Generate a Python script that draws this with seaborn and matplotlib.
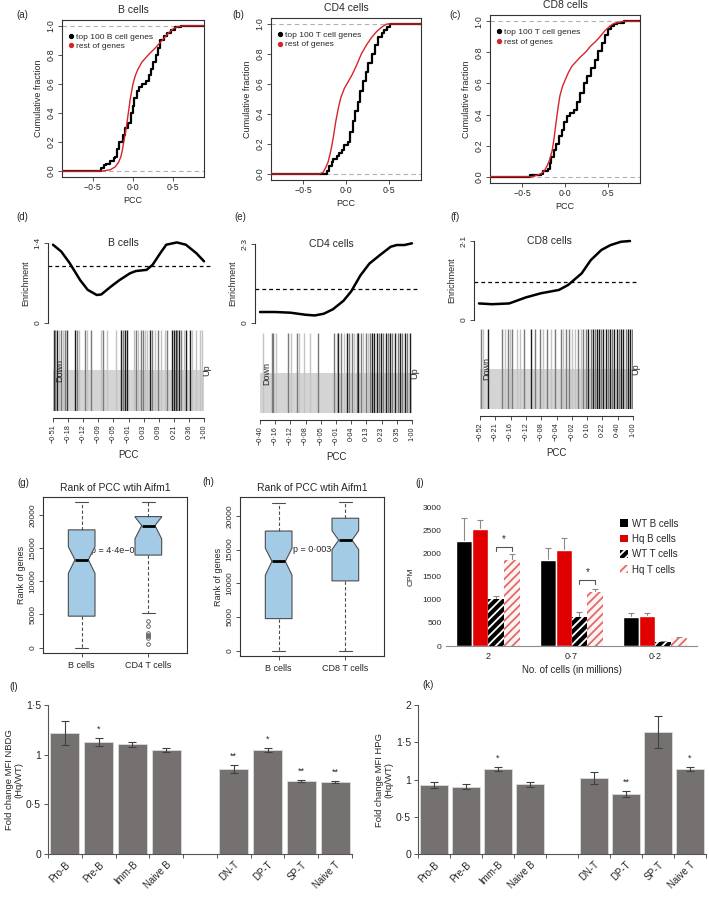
import numpy as np
import pandas as pd
import matplotlib
matplotlib.use("Agg")
import matplotlib.pyplot as plt
import seaborn as sns
from matplotlib.lines import Line2D
from matplotlib.patches import Patch

# ---- (a-c) cumulative fraction curves ----
a_top_pcc = [-0.88, -0.42, -0.40, -0.36, -0.33, -0.28, -0.24, -0.22, -0.20, -0.17, -0.13, -0.095, -0.06,
             -0.025, 0.0, 0.017, 0.05, 0.08, 0.11, 0.16, 0.20, 0.22, 0.25, 0.28, 0.31, 0.34, 0.38, 0.42,
             0.47, 0.52, 0.60, 0.88]
a_top_cum = [0.0, 0.0, 0.02, 0.04, 0.05, 0.07, 0.09, 0.10, 0.15, 0.20, 0.25, 0.30, 0.33, 0.40, 0.45, 0.50,
             0.55, 0.58, 0.60, 0.62, 0.66, 0.70, 0.75, 0.80, 0.85, 0.90, 0.93, 0.95, 0.97, 0.99, 1.0, 1.0]
a_rest_pcc = [-0.88, -0.45, -0.35, -0.28, -0.22, -0.18, -0.15, -0.13, -0.115, -0.083, -0.058, -0.033, 0.0,
              0.03, 0.06, 0.11, 0.19, 0.28, 0.36, 0.44, 0.50, 0.56, 0.63, 0.88]
a_rest_cum = [0.0, 0.0, 0.003, 0.01, 0.03, 0.06, 0.10, 0.15, 0.20, 0.30, 0.40, 0.50, 0.60, 0.66, 0.70, 0.75,
              0.80, 0.85, 0.90, 0.95, 0.98, 0.995, 1.0, 1.0]

b_top_pcc = [-0.88, -0.25, -0.22, -0.20, -0.17, -0.15, -0.11, -0.08, -0.05, -0.02, 0.02, 0.05, 0.08, 0.11,
             0.14, 0.17, 0.20, 0.23, 0.26, 0.30, 0.34, 0.38, 0.42, 0.45, 0.48, 0.52, 0.88]
b_top_cum = [0.0, 0.0, 0.02, 0.05, 0.08, 0.10, 0.12, 0.14, 0.16, 0.19, 0.21, 0.28, 0.35, 0.42, 0.48, 0.55,
             0.62, 0.68, 0.74, 0.80, 0.86, 0.91, 0.94, 0.96, 0.98, 1.0, 1.0]
b_rest_pcc = [-0.88, -0.32, -0.27, -0.24, -0.21, -0.18, -0.15, -0.12, -0.09, -0.06, -0.02, 0.02, 0.07, 0.12,
              0.18, 0.24, 0.30, 0.36, 0.42, 0.48, 0.88]
b_rest_cum = [0.0, 0.0, 0.01, 0.04, 0.08, 0.15, 0.24, 0.35, 0.44, 0.51, 0.57, 0.61, 0.66, 0.72, 0.80, 0.86,
              0.91, 0.95, 0.98, 1.0, 1.0]

c_top_pcc = [-0.88, -0.41, -0.41, -0.30, -0.28, -0.26, -0.20, -0.18, -0.16, -0.13, -0.10, -0.07, -0.04, -0.01,
             0.02, 0.06, 0.10, 0.14, 0.18, 0.22, 0.26, 0.30, 0.35, 0.39, 0.43, 0.47, 0.51, 0.54, 0.57, 0.61,
             0.69, 0.88]
c_top_cum = [0.0, 0.0, 0.01, 0.01, 0.02, 0.04, 0.05, 0.09, 0.13, 0.17, 0.21, 0.26, 0.30, 0.35, 0.39, 0.41,
             0.43, 0.48, 0.54, 0.60, 0.65, 0.70, 0.75, 0.81, 0.86, 0.91, 0.95, 0.97, 0.98, 0.99, 1.0, 1.0]
c_rest_pcc = [-0.88, -0.38, -0.33, -0.28, -0.24, -0.21, -0.18, -0.15, -0.13, -0.10, -0.08, -0.06, -0.03, 0.0,
              0.04, 0.08, 0.13, 0.18, 0.24, 0.30, 0.36, 0.41, 0.47, 0.53, 0.57, 0.61, 0.69, 0.88]
c_rest_cum = [0.0, 0.0, 0.01, 0.02, 0.04, 0.07, 0.11, 0.17, 0.24, 0.37, 0.45, 0.52, 0.58, 0.62, 0.67, 0.71,
              0.74, 0.77, 0.80, 0.84, 0.87, 0.90, 0.94, 0.97, 0.985, 0.99, 1.0, 1.0]

# ---- (d-f) enrichment curves and barcodes (x = rank fraction) ----
d_frac = [0.0, 0.055, 0.11, 0.18, 0.23, 0.29, 0.32, 0.38, 0.44, 0.51, 0.55, 0.62, 0.66, 0.71, 0.75, 0.82,
          0.88, 0.95, 1.0]
d_enrich = [1.37, 1.25, 1.05, 0.75, 0.58, 0.49, 0.50, 0.63, 0.75, 0.87, 0.91, 0.93, 1.02, 1.22, 1.37, 1.41,
            1.37, 1.22, 1.08]
e_frac = [0.0, 0.10, 0.20, 0.30, 0.36, 0.42, 0.48, 0.55, 0.60, 0.66, 0.72, 0.79, 0.86, 0.90, 0.95, 1.0]
e_enrich = [0.32, 0.32, 0.30, 0.24, 0.22, 0.27, 0.40, 0.65, 0.92, 1.38, 1.73, 1.98, 2.22, 2.27, 2.27, 2.32]
f_frac = [0.0, 0.087, 0.20, 0.31, 0.41, 0.53, 0.59, 0.68, 0.74, 0.81, 0.87, 0.94, 1.0]
f_enrich = [0.44, 0.42, 0.44, 0.60, 0.71, 0.80, 0.93, 1.24, 1.59, 1.86, 1.99, 2.08, 2.10]

d_bars = [0.007, 0.015, 0.029, 0.040, 0.051, 0.066, 0.082, 0.095, 0.143, 0.157, 0.170, 0.210, 0.227, 0.249,
          0.320, 0.331, 0.360, 0.419, 0.448, 0.464, 0.479, 0.492, 0.536, 0.552, 0.563, 0.581, 0.596, 0.607,
          0.625, 0.640, 0.656, 0.678, 0.695, 0.717, 0.740, 0.757, 0.788, 0.801, 0.812, 0.823, 0.834, 0.850,
          0.868, 0.883, 0.905, 0.921, 0.949, 0.971, 0.987]
d_weight = [0.9, 0.6, 0.9, 0.35, 0.6, 0.35, 0.6, 0.8, 0.9, 0.6, 0.35, 0.6, 0.35, 0.6, 0.35, 0.6, 0.35, 0.35,
            0.9, 0.6, 0.9, 0.9, 0.35, 0.6, 0.35, 0.6, 0.6, 0.35, 0.35, 0.9, 0.6, 0.35, 0.6, 0.35, 0.35, 0.6,
            0.9, 0.9, 0.9, 0.6, 0.9, 0.6, 0.35, 0.9, 0.9, 0.35, 0.35, 0.35, 0.35]
e_bars = [0.022, 0.077, 0.088, 0.103, 0.186, 0.204, 0.241, 0.257, 0.292, 0.329, 0.384, 0.489, 0.504, 0.515,
          0.533, 0.555, 0.570, 0.586, 0.603, 0.621, 0.636, 0.647, 0.664, 0.680, 0.695, 0.708, 0.724, 0.739,
          0.752, 0.768, 0.783, 0.796, 0.811, 0.827, 0.840, 0.855, 0.871, 0.888, 0.906, 0.921, 0.936, 0.954,
          0.969, 0.987]
e_weight = [0.35, 0.6, 0.6, 0.35, 0.6, 0.35, 0.6, 0.35, 0.35, 0.35, 0.6, 0.6, 0.35, 0.9, 0.6, 0.35, 0.9, 0.6,
            0.6, 0.35, 0.6, 0.9, 0.6, 0.35, 0.6, 0.35, 0.6, 0.9, 0.9, 0.9, 0.6, 0.9, 0.6, 0.9, 0.6, 0.9, 0.6,
            0.9, 0.6, 0.9, 0.6, 0.9, 0.6, 0.9]
f_bars = [0.007, 0.022, 0.050, 0.146, 0.163, 0.181, 0.196, 0.211, 0.240, 0.261, 0.290, 0.333, 0.359, 0.392,
          0.414, 0.436, 0.464, 0.490, 0.529, 0.545, 0.560, 0.582, 0.603, 0.621, 0.643, 0.660, 0.675, 0.691,
          0.708, 0.725, 0.736, 0.752, 0.763, 0.778, 0.791, 0.806, 0.821, 0.834, 0.850, 0.865, 0.878, 0.893,
          0.908, 0.922, 0.937, 0.952, 0.965, 0.980, 0.991]
f_weight = [0.6, 0.35, 0.9, 0.6, 0.35, 0.6, 0.35, 0.6, 0.35, 0.35, 0.6, 0.9, 0.6, 0.6, 0.35, 0.6, 0.35, 0.6,
            0.6, 0.35, 0.6, 0.6, 0.35, 0.35, 0.6, 0.35, 0.6, 0.6, 0.9, 0.6, 0.9, 0.6, 0.9, 0.9, 0.6, 0.9, 0.9,
            0.6, 0.9, 0.6, 0.9, 0.9, 0.6, 0.9, 0.9, 0.6, 0.9, 0.9, 0.6]

d_ticks = ["−0·51", "−0·18", "−0·12", "−0·09", "−0·05", "−0·01", "0·03", "0·09", "0·21", "0·36", "1·00"]
e_ticks = ["−0·40", "−0·16", "−0·12", "−0·08", "−0·05", "−0·01", "0·04", "0·13", "0·23", "0·35", "1·00"]
f_ticks = ["−0·52", "−0·21", "−0·16", "−0·12", "−0·08", "−0·04", "−0·02", "0·10", "0·22", "0·40", "1·00"]

# ---- (g, h) rank boxplots: whislo, q1, notch lo, median, notch hi, q3, whishi ----
box_labels_g = ["B cells", "CD4 T cells"]
box_labels_h = ["B cells", "CD8 T cells"]
g_bcell = [0, 4750, 11200, 13250, 15200, 17750, 21950]
g_cd4 = [5300, 13950, 16400, 18400, 19700, 19750, 21900]
g_cd4_out = [4000, 3300, 2200, 1900, 1700, 1500, 500]
h_bcell = [0, 4750, 11200, 13250, 15200, 17750, 21950]
h_cd8 = [0, 10350, 15000, 16400, 17800, 19650, 22100]

# ---- (j) CPM bars ----
j_sizes = ["2", "0·7", "0·2"]
j_types = ["WT B cells", "Hq B cells", "WT T cells", "Hq T cells"]
j_wt_b = [2270, 1850, 625]
j_hq_b = [2530, 2075, 650]
j_wt_t = [1005, 630, 93]
j_hq_t = [1865, 1170, 165]
j_wt_b_err = [490, 265, 85]
j_hq_b_err = [180, 260, 65]
j_wt_t_err = [70, 105, 10]
j_hq_t_err = [115, 70, 20]
j_sig_groups = [0, 1]
j_sig_level = [2130, 1430]

# ---- (l, k) fold change bars ----
fold_cells = ["Pro-B", "Pre-B", "Imm-B", "Naive B", "DN-T", "DP-T", "SP-T", "Naive T"]
fold_order = ["Pro-B", "Pre-B", "Imm-B", "Naive B", " ", "DN-T", "DP-T", "SP-T", "Naive T"]
nbdg_fc = [1.22, 1.13, 1.105, 1.047, 0.86, 1.047, 0.735, 0.728]
nbdg_err = [0.122, 0.042, 0.025, 0.02, 0.04, 0.025, 0.015, 0.01]
nbdg_sig = ["", "*", "", "", "**", "*", "**", "**"]
hpg_fc = [0.926, 0.904, 1.145, 0.935, 1.025, 0.805, 1.638, 1.145]
hpg_err = [0.035, 0.03, 0.027, 0.035, 0.08, 0.045, 0.22, 0.027]
hpg_sig = ["", "", "*", "", "", "**", "", "*"]

RED = "#d8232a"
FRAME = "#333333"

sns.set_theme(style="ticks")
plt.rcParams["font.family"] = ["Liberation Sans", "DejaVu Sans"]
plt.rcParams["hatch.linewidth"] = 1.3
plt.rcParams["axes.linewidth"] = 0.8

W, H = 709, 897
fig = plt.figure(figsize=(W / 100, H / 100), dpi=100)


def add_ax(l, t, r, b):
    return fig.add_axes([l / W, 1 - b / H, (r - l) / W, (b - t) / H])


def tag(s, x, y, size=7):
    fig.text(x / W, 1 - y / H, s, ha="center", va="center", fontsize=size)


def dot(v, fmt="{:.1f}"):
    return fmt.format(v).replace(".", "·").replace("-", "−")


def r_ticks(ax, size=6):
    ax.tick_params(length=3, width=0.6, pad=1.5, labelsize=size, color=FRAME)
    for s in ax.spines.values():
        s.set_color(FRAME)
        s.set_linewidth(0.8)


# cumulative fraction panel
def ecdf_panel(rect, title, top_label, top_x, top_y, rest_x, rest_y):
    ax = add_ax(*rect)
    for yy in (0, 1):
        ax.axhline(yy, color="#b0b0b0", lw=0.8, ls=(0, (4, 3)), zorder=1)
    sns.lineplot(x=top_x, y=top_y, ax=ax, color="black", lw=1.6, drawstyle="steps-post",
                 estimator=None, sort=False, zorder=2)
    sns.lineplot(x=rest_x, y=rest_y, ax=ax, color=RED, lw=1.0, estimator=None, sort=False, zorder=3)
    ax.set_xlim(-0.88, 0.88)
    ax.set_ylim(-0.04, 1.04)
    ax.set_xticks([-0.5, 0, 0.5], [dot(v) for v in (-0.5, 0.0, 0.5)])
    yt = [0, 0.2, 0.4, 0.6, 0.8, 1.0]
    ax.set_yticks(yt, [dot(v) for v in yt], rotation=90, va="center")
    r_ticks(ax, size=6.3)
    ax.set_title(title, fontsize=7.5, pad=5)
    ax.set_xlabel("PCC", fontsize=6.5, labelpad=3)
    ax.set_ylabel("Cumulative fraction", fontsize=6.5, labelpad=3)
    handles = [Line2D([], [], marker="o", ls="none", color="black", ms=2.8),
               Line2D([], [], marker="o", ls="none", color=RED, ms=2.8)]
    ax.legend(handles, [top_label, "rest of genes"], loc="upper left", bbox_to_anchor=(0.0, 0.95),
              frameon=False, fontsize=6, handletextpad=0.1, labelspacing=0.2, borderaxespad=0.2,
              handlelength=1.0)
    return ax


ecdf_panel((62, 20, 204, 177), "B cells", "top 100 B cell genes", a_top_pcc, a_top_cum, a_rest_pcc, a_rest_cum)
ecdf_panel((271, 18, 421, 180), "CD4 cells", "top 100 T cell genes", b_top_pcc, b_top_cum, b_rest_pcc, b_rest_cum)
ecdf_panel((490, 15, 640, 183), "CD8 cells", "top 100 T cell genes", c_top_pcc, c_top_cum, c_rest_pcc, c_rest_cum)


# enrichment curve plus barcode panel
def enrich_panel(rect_e, rect_b, title, ymax, ylab, frac, enr, bars, weight, ticks):
    ax = add_ax(*rect_e)
    ax.axhline(1, color="black", lw=0.9, ls=(0, (3, 2.5)))
    sns.lineplot(x=frac, y=enr, ax=ax, color="black", lw=1.8, estimator=None, sort=False, clip_on=False)
    ax.set_xlim(-0.033, 1.053)
    ax.set_ylim(0, ymax)
    for s in ("top", "right", "bottom"):
        ax.spines[s].set_visible(False)
    ax.set_xticks([])
    ax.set_yticks([0, ymax], ["0", ylab], rotation=90, va="center")
    r_ticks(ax)
    ax.set_ylabel("Enrichment", fontsize=6.5, labelpad=3)
    ax.text(0.46, 1.0, title, transform=ax.transAxes, ha="center", va="center", fontsize=7.5)

    bx = add_ax(*rect_b)
    bx.axhspan(0, 0.5, color="#d4d4d4", lw=0, zorder=0)
    sns.rugplot(x=bars, hue=weight, palette="Greys", hue_norm=(0, 1), height=1, lw=0.75, legend=False,
                expand_margins=False, ax=bx)
    bx.set_xlim(0, 1)
    bx.set_ylim(0, 1)
    for s in ("top", "right", "left"):
        bx.spines[s].set_visible(False)
    bx.spines["bottom"].set_position(("outward", 5))
    bx.spines["bottom"].set_bounds(0, 1)
    bx.set_yticks([])
    bx.set_xticks(np.linspace(0, 1, 11), ticks, rotation=90)
    r_ticks(bx, size=5.2)
    bx.text(0.012, 0.5, "Down", transform=bx.transAxes, rotation=90, ha="left", va="center", fontsize=6.5)
    bx.text(1.015, 0.5, "Up", transform=bx.transAxes, rotation=90, ha="center", va="center", fontsize=6.5)
    bx.set_xlabel("PCC", fontsize=7, labelpad=5)


enrich_panel((48, 243, 212, 323), (53, 330, 204, 411), "B cells", 1.4, "1·4", d_frac, d_enrich, d_bars, d_weight, d_ticks)
enrich_panel((255, 244, 420, 323), (260, 333, 412, 413), "CD4 cells", 2.3, "2·3", e_frac, e_enrich, e_bars, e_weight, e_ticks)
enrich_panel((474, 241, 638, 320), (480, 329, 633, 409), "CD8 cells", 2.1, "2·1", f_frac, f_enrich, f_bars, f_weight, f_ticks)


# notched boxplot panel
def box_stats(v, label, fliers=()):
    return dict(whislo=v[0], q1=v[1], cilo=v[2], med=v[3], cihi=v[4], q3=v[5], whishi=v[6],
                fliers=list(fliers), label=label)


def box_panel(rect, labels, s1, s2, ptxt, py, ylim):
    ax = add_ax(*rect)
    ax.text(1.5, py, ptxt, ha="center", va="center", fontsize=6.5, zorder=1)
    ax.bxp([s1, s2], positions=[1, 2], widths=0.4, shownotches=True, patch_artist=True,
           boxprops=dict(facecolor="#a4cbe6", edgecolor="#4d4d4d", lw=0.8),
           whiskerprops=dict(color="#4d4d4d", ls=(0, (3, 2)), lw=0.8),
           capprops=dict(color="#4d4d4d", lw=0.8), capwidths=0.2,
           medianprops=dict(color="black", lw=2),
           flierprops=dict(marker="o", mfc="none", mec="#4d4d4d", ms=2.6, mew=0.6), zorder=2)
    ax.set_xlim(0.42, 2.58)
    ax.set_ylim(*ylim)
    ax.set_xticks([1, 2], labels)
    yt = [0, 5000, 10000, 15000, 20000]
    ax.set_yticks(yt, [str(v) for v in yt], rotation=90, va="center")
    r_ticks(ax, size=6)
    ax.tick_params(axis="x", labelsize=6.5, pad=3)
    ax.set_title("Rank of PCC wtih Aifm1", fontsize=7.5, pad=4)
    ax.set_ylabel("Rank of genes", fontsize=6.5, labelpad=3)


box_panel((43, 497, 187, 653), box_labels_g, box_stats(g_bcell, box_labels_g[0]),
          box_stats(g_cd4, box_labels_g[1], g_cd4_out), "p = 4·4e−06", 14700, (-800, 22700))
box_panel((240, 497, 384, 656), box_labels_h, box_stats(h_bcell, box_labels_h[0]),
          box_stats(h_cd8, box_labels_h[1]), "p = 0·003", 15000, (-800, 22800))

# (j) CPM grouped bars
ax = add_ax(446, 507, 697, 646)
j_df = pd.DataFrame({
    "cells": j_sizes * 4,
    "type": np.repeat(j_types, len(j_sizes)),
    "cpm": j_wt_b + j_hq_b + j_wt_t + j_hq_t,
})
sns.barplot(data=j_df, x="cells", y="cpm", hue="type", order=j_sizes, hue_order=j_types,
            palette=["black", "#e00000", "black", "white"], saturation=1, width=0.76,
            errorbar=None, legend=False, ax=ax, zorder=2)
for bar in ax.containers[2]:
    bar.set_edgecolor("white")
    bar.set_hatch("////")
    bar.set_linewidth(0)
for bar in ax.containers[3]:
    bar.set_facecolor("#fff4f4")
    bar.set_edgecolor("#e26a6a")
    bar.set_hatch("////")
    bar.set_linewidth(0)
for cont, err in zip(ax.containers, [j_wt_b_err, j_hq_b_err, j_wt_t_err, j_hq_t_err]):
    xs = [b.get_x() + b.get_width() / 2 for b in cont]
    ys = [b.get_height() for b in cont]
    ax.errorbar(xs, ys, yerr=err, fmt="none", ecolor="#8a8a8a", elinewidth=0.8, capsize=2.5,
                capthick=0.8, zorder=1)
for gi, lev in zip(j_sig_groups, j_sig_level):
    b1, b2 = ax.containers[2][gi], ax.containers[3][gi]
    x1 = b1.get_x() + b1.get_width() / 2
    x2 = b2.get_x() + b2.get_width() / 2
    ax.plot([x1, x1, x2, x2], [lev - 90, lev, lev, lev - 90], color="#555555", lw=0.8)
    ax.text((x1 + x2) / 2, lev + 60, "*", ha="center", va="bottom", fontsize=7)
ax.set_xlim(-0.5, 2.5)
ax.set_ylim(0, 3000)
ax.set_yticks(range(0, 3001, 500))
ax.tick_params(length=0, labelsize=6, pad=3)
ax.tick_params(axis="x", labelsize=6.5, pad=4)
sns.despine(ax=ax, left=True)
ax.spines["bottom"].set_color("#8c8c8c")
ax.spines["bottom"].set_linewidth(0.8)
ax.set_xlabel("No. of cells (in millions)", fontsize=7, labelpad=3)
ax.set_ylabel("CPM", fontsize=6, labelpad=6)
leg_handles = [Patch(facecolor="black", lw=0),
               Patch(facecolor="#e00000", lw=0),
               Patch(facecolor="black", edgecolor="white", hatch="////", lw=0),
               Patch(facecolor="#fff4f4", edgecolor="#e26a6a", hatch="////", lw=0)]
ax.legend(leg_handles, j_types, loc="upper left", bbox_to_anchor=(0.66, 0.98), frameon=False,
          fontsize=7, handlelength=0.8, handleheight=0.8, handletextpad=0.4, labelspacing=0.55)


# fold change bar panel
def fold_panel(rect, ylabel, vals, errs, sig, ymax, yt, ytl):
    ax = add_ax(*rect)
    df = pd.DataFrame({"cell": fold_cells, "fc": vals})
    sns.barplot(data=df, x="cell", y="fc", order=fold_order, color="#767171", saturation=1, width=0.86,
                errorbar=None, edgecolor="#dcdcdc", linewidth=0.6, ax=ax)
    xs = [fold_order.index(c) for c in fold_cells]
    ax.errorbar(xs, vals, yerr=errs, fmt="none", ecolor="#404040", elinewidth=0.8, capsize=3,
                capthick=0.8, zorder=3)
    for x, v, e, s in zip(xs, vals, errs, sig):
        if s:
            ax.annotate(s, (x, v + e), xytext=(0, 3), textcoords="offset points", ha="center",
                        va="bottom", fontsize=6.5)
    ax.set_xlim(-0.5, 8.5)
    ax.set_ylim(0, ymax)
    ax.set_xticks(range(len(fold_order)), [c.strip() for c in fold_order], rotation=45, ha="right",
                  va="top", rotation_mode="anchor")
    ax.set_xticks(np.arange(-0.5, len(fold_order)), minor=True)
    ax.set_yticks(yt, ytl)
    sns.despine(ax=ax)
    for s in ("left", "bottom"):
        ax.spines[s].set_color("#555555")
        ax.spines[s].set_linewidth(0.8)
    ax.tick_params(axis="y", length=3, width=0.7, color="#555555", labelsize=7.5, pad=2)
    ax.tick_params(axis="x", which="major", length=0, labelsize=7, pad=4)
    ax.tick_params(axis="x", which="minor", length=3, width=0.7, color="#555555")
    ax.set_xlabel("")
    ax.set_ylabel(ylabel, fontsize=6.8, labelpad=2, linespacing=1.05)


fold_panel((48, 705, 352, 854), "Fold change MFI NBDG\n(Hq/WT)", nbdg_fc, nbdg_err, nbdg_sig, 1.5,
           [0, 0.5, 1, 1.5], ["0", "0·5", "1", "1·5"])
fold_panel((418, 705, 706, 854), "Fold change MFI HPG\n(Hq/WT)", hpg_fc, hpg_err, hpg_sig, 2,
           [0, 0.5, 1, 1.5, 2], ["0", "0·5", "1", "1·5", "2"])

# panel letters
for s, x, y in [("(a)", 22, 15), ("(b)", 238, 15), ("(c)", 455, 15), ("(d)", 22, 217), ("(e)", 240, 217),
                ("(f)", 455, 217), ("(g)", 23, 483), ("(h)", 208, 482), ("(j)", 420, 483),
                ("(l)", 14, 687), ("(k)", 428, 685)]:
    tag(s, x, y)

fig.savefig("out.png", dpi=100)
